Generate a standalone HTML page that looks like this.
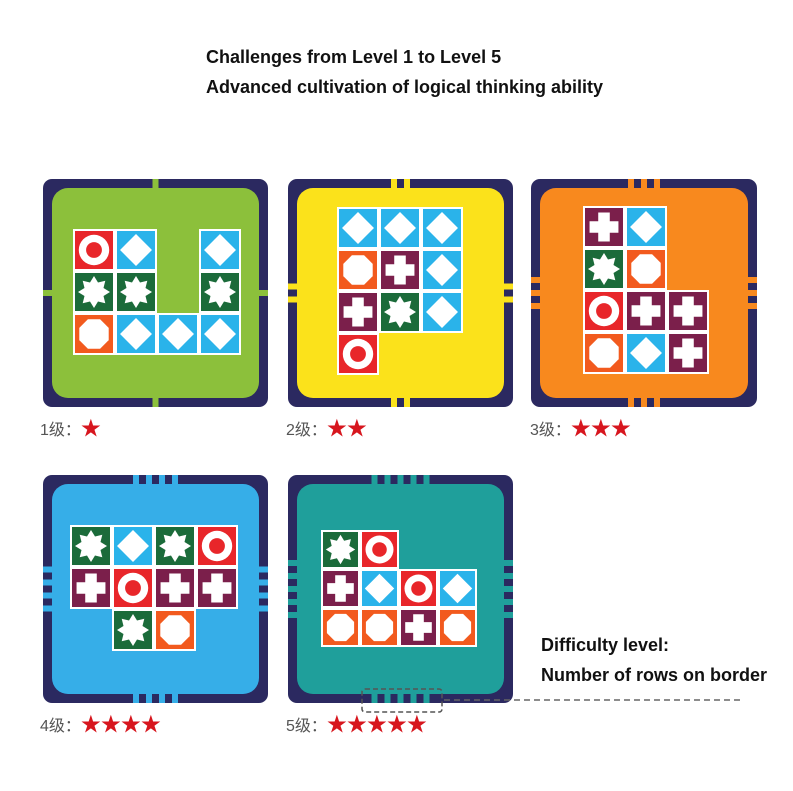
<!DOCTYPE html>
<html><head><meta charset="utf-8">
<style>
html,body{margin:0;padding:0;background:#fff;}
body{width:793px;height:791px;overflow:hidden;position:relative;font-family:"Liberation Sans",Arial,sans-serif;}
.t{position:absolute;font-weight:bold;font-size:18px;color:#111;white-space:nowrap;}
.lab{position:absolute;font-family:"Liberation Sans","Noto Sans CJK SC",sans-serif;font-size:16px;color:#555;white-space:nowrap;}
.lab b{color:#d7161e;font-weight:normal;font-size:20px;letter-spacing:0px;}
</style></head><body>
<div class="t" style="left:206px;top:47px;">Challenges from Level 1 to Level 5</div>
<div class="t" style="left:206px;top:77px;">Advanced cultivation of logical thinking ability</div>
<div class="t" style="left:541px;top:635px;">Difficulty level:</div>
<div class="t" style="left:541px;top:665px;">Number of rows on border</div>
<div class="lab" style="left:40px;top:412px;">1级：<b>★</b></div>
<div class="lab" style="left:286px;top:412px;">2级：<b>★★</b></div>
<div class="lab" style="left:530px;top:412px;">3级：<b>★★★</b></div>
<div class="lab" style="left:40px;top:708px;">4级：<b>★★★★</b></div>
<div class="lab" style="left:286px;top:708px;">5级：<b>★★★★★</b></div>
<svg id="s" width="793" height="791" style="position:absolute;left:0;top:0;"></svg>
<script>
var NS="http://www.w3.org/2000/svg",S=document.getElementById('s');
function el(t,a){var e=document.createElementNS(NS,t);for(var k in a)e.setAttribute(k,a[k]);S.appendChild(e);return e;}
var NAVY="#2b2960";
var TC={O:"#e8262a",D:"#2ab3ea",S:"#1b6b3a",H:"#f25a1e",C:"#7b1f4b"};
function star(cx,cy,r1,r2,n){var p=[];for(var i=0;i<2*n;i++){var r=i%2?r2:r1,a=Math.PI*i/n-Math.PI/2;p.push((cx+r*Math.cos(a)).toFixed(1)+","+(cy+r*Math.sin(a)).toFixed(1));}return p.join(" ");}
function tile(x,y,s,t){
 el('rect',{x:x-2,y:y-2,width:s+4,height:s+4,fill:"#fff"});
 el('rect',{x:x,y:y,width:s,height:s,fill:TC[t]});
 var cx=x+s/2,cy=y+s/2,r=s*0.4;
 if(t=="O"){el('circle',{cx:cx,cy:cy,r:r,fill:"#fff"});el('circle',{cx:cx,cy:cy,r:r*0.52,fill:TC.O});}
 else if(t=="D"){el('polygon',{points:[cx,cy-r*1.05,cx+r*1.05,cy,cx,cy+r*1.05,cx-r*1.05,cy].join(" "),fill:"#fff"});}
 else if(t=="S"){el('polygon',{points:star(cx,cy,r*1.05,r*0.68,8),fill:"#fff"});}
 else if(t=="H"){var p=[];for(var i=0;i<8;i++){var a=Math.PI/8+i*Math.PI/4;p.push((cx+r*1.05*Math.cos(a)).toFixed(1)+","+(cy+r*1.05*Math.sin(a)).toFixed(1));}el('polygon',{points:p.join(" "),fill:"#fff"});}
 else if(t=="C"){var a=r*0.95,b=r*0.38;el('polygon',{points:[cx-b,cy-a,cx+b,cy-a,cx+b,cy-b,cx+a,cy-b,cx+a,cy+b,cx+b,cy+b,cx+b,cy+a,cx-b,cy+a,cx-b,cy+b,cx-a,cy+b,cx-a,cy-b,cx-b,cy-b].join(" "),fill:"#fff"});}
}
function card(x,y,w,h,col,n,ox,oy,s,grid){
 el('rect',{x:x,y:y,width:w,height:h,rx:9,fill:NAVY});
 var sw=6,gap=7,tot=n*sw+(n-1)*gap;
 for(var i=0;i<n;i++){
  var px=x+w/2-tot/2+i*(sw+gap), py=y+h/2-tot/2+i*(sw+gap);
  el('rect',{x:px,y:y,width:sw,height:h,fill:col});
  el('rect',{x:x,y:py,width:w,height:sw,fill:col});
 }
 el('rect',{x:x+9,y:y+9,width:w-18,height:h-18,rx:16,fill:col});
 for(var r=0;r<grid.length;r++)for(var c=0;c<grid[r].length;c++){var t=grid[r][c];if(t!="_")tile(ox+c*(s+4),oy+r*(s+4),s,t);}
}
card(43,179,225,228,"#8cc03b",1,75,231,38,["OD_D","SS_S","HDDD"]);
card(288,179,225,228,"#fbe21b",2,339,209,38,["DDD","HCD","CSD","O__"]);
card(531,179,226,228,"#f8891e",3,585,208,38,["CD_","SH_","OCC","HDC"]);
card(43,475,225,228,"#36aee8",4,72,527,38,["SDSO","COCC","_SH_"]);
card(288,475,225,228,"#1f9f9b",5,323,532,35,["SO__","CDOD","HHCH"]);
el('rect',{x:362,y:689,width:80,height:23,rx:3,fill:"none",stroke:"#555","stroke-width":1.5,"stroke-dasharray":"5,3"});
el('line',{x1:444,y1:700,x2:742,y2:700,stroke:"#666","stroke-width":1.5,"stroke-dasharray":"6,4"});
</script>
</body></html>
